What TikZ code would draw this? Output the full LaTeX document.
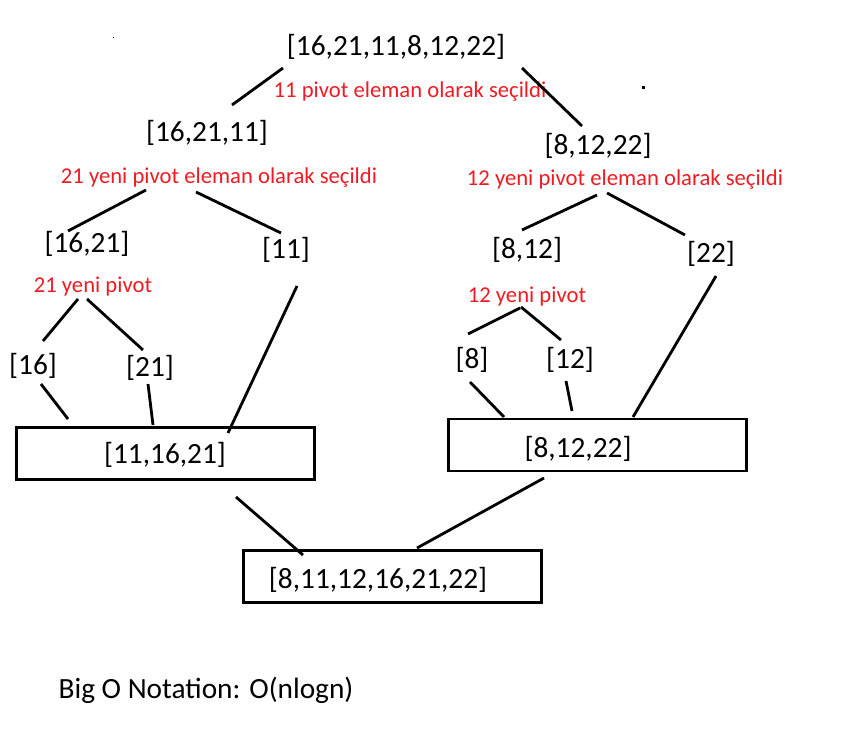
\documentclass[tikz,border=0pt]{standalone}
\usepackage{fontspec}
\setmainfont{Carlito}
\usepackage{tikz}
\definecolor{pivotred}{RGB}{237,28,36}
\tikzset{
  list/.style={inner sep=0pt, font=\fontsize{22}{26}\selectfont},
  note/.style={inner sep=0pt, text=pivotred, font=\fontsize{17}{20}\selectfont},
  sorted/.style={rectangle, draw, line width=2.1pt, minimum width=223.5pt, minimum height=39pt, inner sep=0pt},
  link/.style={line width=2.1pt}
}
\begin{document}
\begin{tikzpicture}[x=0.75pt, y=-0.75pt]
\useasboundingbox (0,0) rectangle (856,748);

\node (root) at (396,47) [list] {[16,21,11,8,12,22]};
\node (p0) at (410,92) [note] {11 pivot eleman olarak seçildi};

\node (l) at (207,133) [list] {[16,21,11]};
	\node (pl) at (219,178) [note] {21 yeni pivot eleman olarak seçildi};
	\node (ll) at (87,244) [list] {[16,21]};
		\node (pll) at (93,287) [note] {21 yeni pivot};
		\node (a) at (33,366) [list] {[16]};
		\node (b) at (150,368) [list] {[21]};
	\node (lr) at (286,250) [list] {[11]};

\node (r) at (598,146) [list] {[8,12,22]};
	\node (pr) at (625,180) [note] {12 yeni pivot eleman olarak seçildi};
	\node (rl) at (527,250) [list] {[8,12]};
		\node (prl) at (527,297) [note] {12 yeni pivot};
		\node (c) at (472,360) [list] {[8]};
		\node (d) at (570,360) [list] {[12]};
	\node (rr) at (711,254) [list] {[22]};

\node (m1) at (165.5,453.5) [sorted] {};
	\node (m1t) at (165,455) [list] {[11,16,21]};
\node (m2) at (597.5,445) [sorted] {};
	\node (m2t) at (578,449) [list] {[8,12,22]};
\node (m3) at (392.5,576.5) [sorted] {};
	\node (m3t) at (378,580) [list] {[8,11,12,16,21,22]};

\node (big) at (206,690) [list] {Big O Notation: O(nlogn)};

\draw[link] ([shift={(-113,21)}]root.center) -- ([shift={(25,-28)}]l.center);
\draw[link] ([shift={(126,21)}]root.center) -- ([shift={(-16,-20)}]r.center);

\draw[link] ([shift={(-61,57)}]l.center) -- ([shift={(-19,-13)}]ll.center);
\draw[link] ([shift={(-11,59)}]l.center) -- ([shift={(-5,-17)}]lr.center);
\draw[link] ([shift={(-1,49)}]r.center) -- ([shift={(-5,-20)}]rl.center);
\draw[link] ([shift={(9,47)}]r.center) -- ([shift={(-26,-19)}]rr.center);

\draw[link] ([shift={(-9,55)}]ll.center) -- ([shift={(10,-25)}]a.center);
\draw[link] ([shift={(0,55)}]ll.center) -- ([shift={(-7,-18)}]b.center);
\draw[link] ([shift={(-7,58)}]rl.center) -- ([shift={(-4,-26)}]c.center);
\draw[link] ([shift={(-6,57)}]rl.center) -- ([shift={(-9,-20)}]d.center);

\draw[link] ([shift={(8,18)}]a.center) -- ([shift={(-97.5,-34.5)}]m1.center);
\draw[link] ([shift={(-2,16)}]b.center) -- ([shift={(-12.5,-28.5)}]m1.center);
\draw[link] ([shift={(11,36)}]lr.center) -- ([shift={(62.5,-20.5)}]m1.center);
\draw[link] ([shift={(-2,22)}]c.center) -- ([shift={(-93.5,-28)}]m2.center);
\draw[link] ([shift={(-4,21)}]d.center) -- ([shift={(-25.5,-34)}]m2.center);
\draw[link] ([shift={(5,22)}]rr.center) -- ([shift={(35.5,-28)}]m2.center);

\draw[link] ([shift={(70.5,43.5)}]m1.center) -- ([shift={(-89.5,-21.5)}]m3.center);
\draw[link] ([shift={(-53.5,33)}]m2.center) -- ([shift={(24.5,-28.5)}]m3.center);

\fill (112.5,37.5) rectangle (113.5,38.5);
\fill (641.5,86.5) rectangle (644.5,89.5);
\end{tikzpicture}
\end{document}
